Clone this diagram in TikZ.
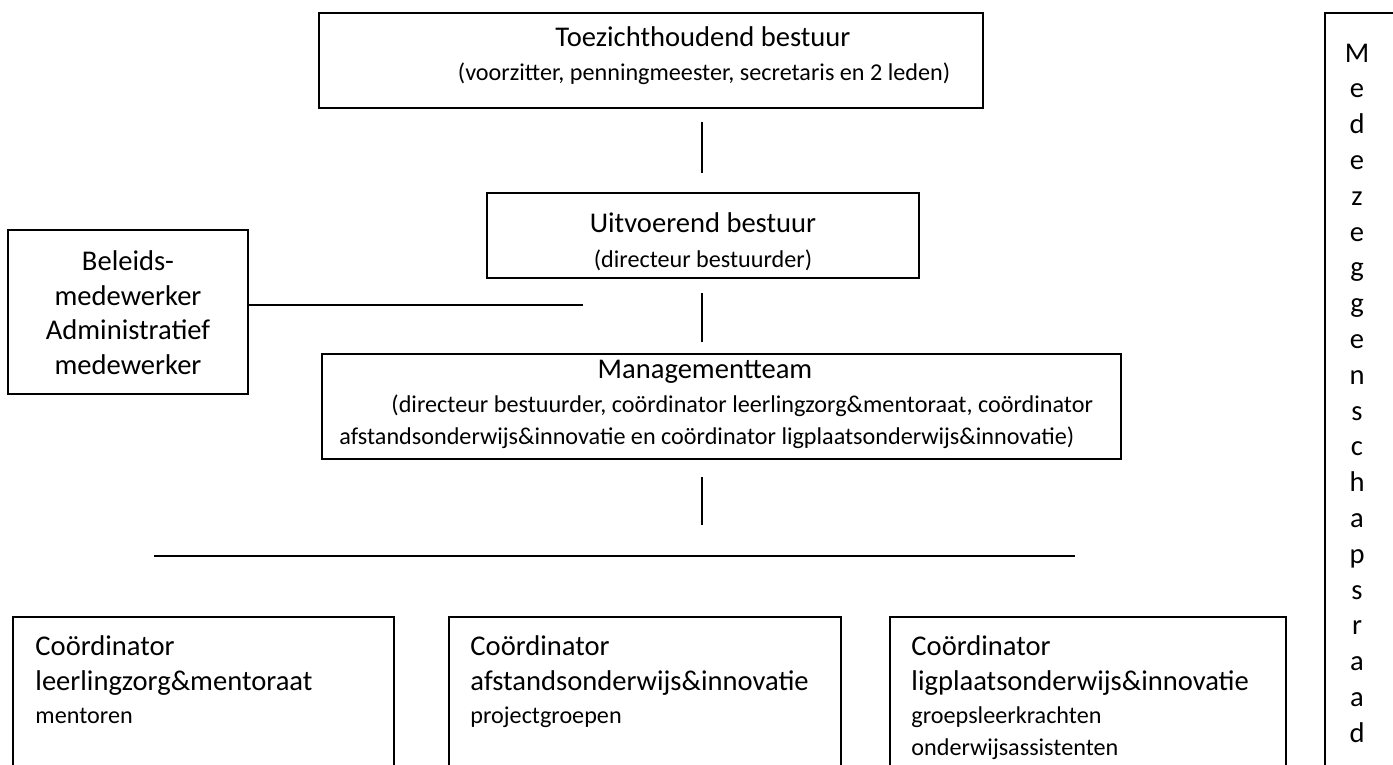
\documentclass[tikz,border=0pt]{standalone}
\usepackage{fontspec}
\setmainfont{Carlito}
\usetikzlibrary{positioning}
\newcommand{\pxu}{0.42pt}
\tikzset{
    orgbox/.style = {rectangle, draw=black, line width=0.8pt, inner sep=0pt},
    link/.style = {line width=0.8pt, draw=black},
    big/.style = {inner sep=0pt, font=\fontsize{12}{14.6}\selectfont},
    small/.style = {inner sep=0pt, font=\fontsize{10.15}{12.4}\selectfont},
}

\begin{document}
\begin{tikzpicture}[x=0.42pt, y=-0.42pt]
  \useasboundingbox (0,0) rectangle (1393,764);
  \clip (0,0) rectangle (1393,764);

  % boxes
  \node[orgbox, minimum width=664*\pxu, minimum height=95*\pxu]  (tzb) at (651,60.5)   {};
  \node[orgbox, minimum width=432*\pxu, minimum height=85*\pxu]  (uvb) at (703,235.5)  {};
  \node[orgbox, minimum width=240*\pxu, minimum height=164*\pxu] (blb) at (128,312)    {};
  \node[orgbox, minimum width=799*\pxu, minimum height=105*\pxu] (mtb) at (721.5,406.5) {};
  \node[orgbox, minimum width=381*\pxu, minimum height=183*\pxu] (co1) at (203.5,708.5) {};
  \node[orgbox, minimum width=392*\pxu, minimum height=183*\pxu] (co2) at (645,708.5)   {};
  \node[orgbox, minimum width=396*\pxu, minimum height=183*\pxu] (co3) at (1088,708.5)  {};
  \node[orgbox, minimum width=75*\pxu,  minimum height=787*\pxu] (mrb) at (1362.5,406.5) {};

  % texts
  \node[big, anchor=base]   (tzt) at (703,47)  {Toezichthoudend bestuur};
  \node[small, anchor=base] (tzs) at (704,80)  {(voorzitter, penningmeester, secretaris en 2 leden)};
  \node[big, anchor=base]   (uvt) at (703,232) {Uitvoerend bestuur};
  \node[small, anchor=base] (uvs) at (703,267) {(directeur bestuurder)};
  \node[big, anchor=base] (bl1) at (128,270) {Beleids-};
  \node[big, anchor=base] (bl2) at (128,305) {medewerker};
  \node[big, anchor=base] (bl3) at (128,339) {Administratief};
  \node[big, anchor=base] (bl4) at (128,374) {medewerker};
  \node[big, anchor=base]        (mtt)  at (705,378) {Managementteam};
  \node[small, anchor=base west] (mts1) at (391,412) {(directeur bestuurder, coördinator leerlingzorg\&mentoraat, coördinator};
  \node[small, anchor=base west] (mts2) at (339,444) {afstandsonderwijs\&innovatie en coördinator ligplaatsonderwijs\&innovatie)};

  \node[big, anchor=base west]   (c1a) at (35,655)  {Coördinator};
  \node[big, anchor=base west]   (c1b) at (35,690)  {leerlingzorg\&mentoraat};
  \node[small, anchor=base west] (c1c) at (35,723)  {mentoren};
  \node[big, anchor=base west]   (c2a) at (470,655) {Coördinator};
  \node[big, anchor=base west]   (c2b) at (470,690) {afstandsonderwijs\&innovatie};
  \node[small, anchor=base west] (c2c) at (470,723) {projectgroepen};
  \node[big, anchor=base west]   (c3a) at (911,655) {Coördinator};
  \node[big, anchor=base west]   (c3b) at (911,690) {ligplaatsonderwijs\&innovatie};
  \node[small, anchor=base west] (c3c) at (911,723) {groepsleerkrachten};
  \node[small, anchor=base west] (c3d) at (911,755) {onderwijsassistenten};

  \foreach \ch [count=\i] in {M,e,d,e,z,e,g,g,e,n,s,c,h,a,p,s,r,a,a,d}
    \node[big, anchor=base] (mr\i) at (1357,{62+35.8*(\i-1)}) {\ch};

  % connectors
  \coordinate (l1a) at (702,122);  \coordinate (l1b) at (702,173);
  \coordinate (l2a) at (702,293);  \coordinate (l2b) at (702,342);
  \coordinate (l3a) at (702,477);  \coordinate (l3b) at (702,525);
  \coordinate (blk) at (583,305);
  \coordinate (hla) at (154,556);  \coordinate (hlb) at (1075,556);
  \draw[link] (l1a) -- (l1b);
  \draw[link] (l2a) -- (l2b);
  \draw[link] (l3a) -- (l3b);
  \draw[link] (blb.east |- blk) -- (blk);
  \draw[link] (hla) -- (hlb);
\end{tikzpicture}
\end{document}
